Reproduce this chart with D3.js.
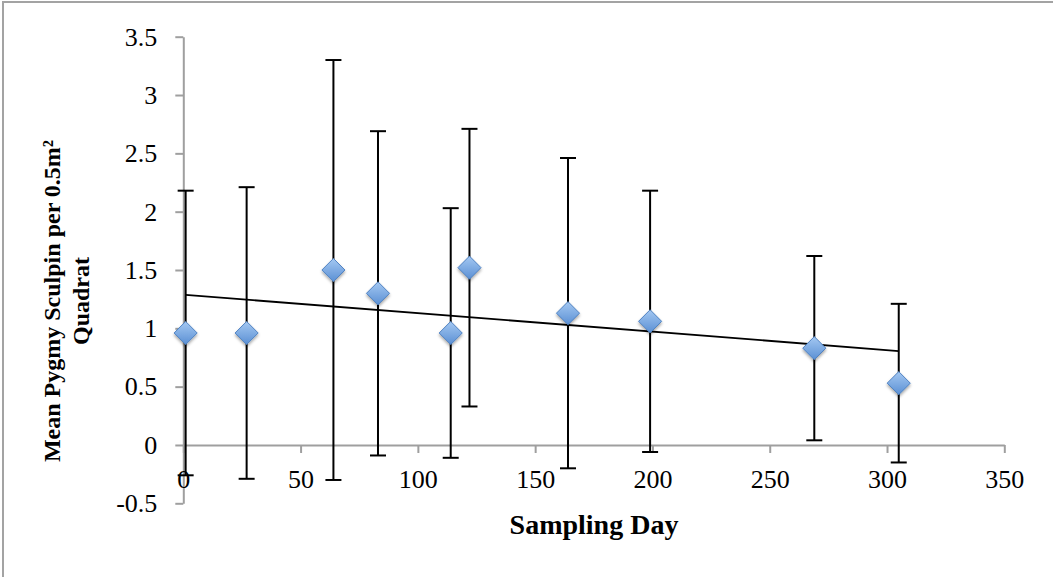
<!DOCTYPE html>
<html>
<head>
<meta charset="utf-8">
<script src="https://cdn.jsdelivr.net/npm/d3@7"></script>
<style>
  html, body { margin: 0; padding: 0; background: #fff; }
  svg { display: block; }
</style>
</head>
<body>
<svg id="chart" width="1053" height="577"></svg>
<script>
// ---- data ----
const days   = [1, 27, 64, 83, 114, 122, 164, 199, 269, 305];
const means  = [0.96, 0.96, 1.50, 1.30, 0.96, 1.52, 1.13, 1.06, 0.83, 0.53];
const errors = [1.22, 1.25, 1.80, 1.39, 1.07, 1.19, 1.33, 1.12, 0.79, 0.68];
const xTickValues = [0, 50, 100, 150, 200, 250, 300, 350];
const yTickValues = [-0.5, 0, 0.5, 1, 1.5, 2, 2.5, 3, 3.5];
const xTitle = "Sampling Day";
const yTitleLine1 = "Mean Pygmy Sculpin per 0.5m²";
const yTitleLine2 = "Quadrat";

const points = days.map((d, i) => ({ day: d, mean: means[i], err: errors[i] }));

const svg = d3.select("#chart");
const serif = "'Liberation Serif', 'Times New Roman', serif";

// outer border (clipped at right/bottom like the reference)
svg.append("rect")
  .attr("x", 3).attr("y", 2)
  .attr("width", 1060).attr("height", 590)
  .attr("fill", "none").attr("stroke", "#a3a3a3").attr("stroke-width", 2);

const x = d3.scaleLinear().domain([0, 350]).range([183.3, 1004.3]);
const y = d3.scaleLinear().domain([-0.5, 3.5]).range([503.3, 36.7]);

const axisColor = "#9f9f9f";

// y axis
const gy = svg.append("g").attr("transform", `translate(${x(0)},0)`)
  .call(d3.axisLeft(y).tickValues(yTickValues).tickSize(8).tickSizeOuter(0)
        .tickPadding(18).tickFormat(d => String(d)));
gy.select(".domain").attr("stroke", axisColor).attr("stroke-width", 2);
gy.selectAll(".tick line").attr("stroke", axisColor).attr("stroke-width", 2);
gy.selectAll(".tick text").attr("font-family", serif).attr("font-size", 26).attr("fill", "#000");

// x axis (crosses at y = 0)
const gx = svg.append("g").attr("transform", `translate(0,${y(0)})`)
  .call(d3.axisBottom(x).tickValues(xTickValues).tickSize(8).tickSizeOuter(0)
        .tickPadding(17).tickFormat(d => String(d)));
gx.select(".domain").attr("stroke", axisColor).attr("stroke-width", 2);
gx.selectAll(".tick line").attr("stroke", axisColor).attr("stroke-width", 2);
gx.selectAll(".tick text").attr("font-family", serif).attr("font-size", 26).attr("fill", "#000");

// axis titles
svg.append("text")
  .attr("x", 594).attr("y", 534)
  .attr("text-anchor", "middle")
  .attr("font-family", serif).attr("font-weight", "bold").attr("font-size", 28)
  .text(xTitle);

const yt = svg.append("text")
  .attr("transform", "translate(0,301) rotate(-90)")
  .attr("text-anchor", "middle")
  .attr("font-family", serif).attr("font-weight", "bold").attr("font-size", 24);
yt.append("tspan").attr("x", 0).attr("y", 60).text(yTitleLine1);
yt.append("tspan").attr("x", 0).attr("y", 89).text(yTitleLine2);

// gradient + shadow for the diamond markers
const defs = svg.append("defs");
const grad = defs.append("linearGradient").attr("id", "mk")
  .attr("x1", 0).attr("y1", 0).attr("x2", 0).attr("y2", 1);
grad.append("stop").attr("offset", "0%").attr("stop-color", "#a4c8f2");
grad.append("stop").attr("offset", "100%").attr("stop-color", "#5b90d4");
const f = defs.append("filter").attr("id", "sh")
  .attr("x", "-50%").attr("y", "-50%").attr("width", "200%").attr("height", "200%");
f.append("feDropShadow").attr("dx", 0).attr("dy", 2).attr("stdDeviation", 1.6)
  .attr("flood-color", "#000").attr("flood-opacity", 0.35);

// trend line (least squares fit of the plotted points)
const mx = d3.mean(days), my = d3.mean(means);
const slope = d3.sum(days, (d, i) => (d - mx) * (means[i] - my)) / d3.sum(days, d => (d - mx) ** 2);
const icpt = my - slope * mx;
const xExt = d3.extent(days);
svg.append("path")
  .datum(xExt.map(d => [d, icpt + slope * d]))
  .attr("d", d3.line().x(d => x(d[0])).y(d => y(d[1])))
  .attr("fill", "none").attr("stroke", "#000").attr("stroke-width", 1.8);

// error bars
const cap = 8;
const eb = svg.append("g").attr("stroke", "#000").attr("stroke-width", 2);
eb.selectAll("line.v").data(points).join("line").attr("class", "v")
  .attr("x1", d => x(d.day)).attr("x2", d => x(d.day))
  .attr("y1", d => y(d.mean + d.err)).attr("y2", d => y(d.mean - d.err));
eb.selectAll("line.t").data(points).join("line").attr("class", "t")
  .attr("x1", d => x(d.day) - cap).attr("x2", d => x(d.day) + cap)
  .attr("y1", d => y(d.mean + d.err)).attr("y2", d => y(d.mean + d.err));
eb.selectAll("line.b").data(points).join("line").attr("class", "b")
  .attr("x1", d => x(d.day) - cap).attr("x2", d => x(d.day) + cap)
  .attr("y1", d => y(d.mean - d.err)).attr("y2", d => y(d.mean - d.err));

// diamond markers
const sym = d3.symbol().type(d3.symbolDiamond2).size(340);
svg.append("g").selectAll("path").data(points).join("path")
  .attr("transform", d => `translate(${x(d.day)},${y(d.mean)})`)
  .attr("d", sym)
  .attr("fill", "url(#mk)")
  .attr("stroke", "#4f82c2").attr("stroke-width", 1)
  .attr("filter", "url(#sh)");
</script>
</body>
</html>
